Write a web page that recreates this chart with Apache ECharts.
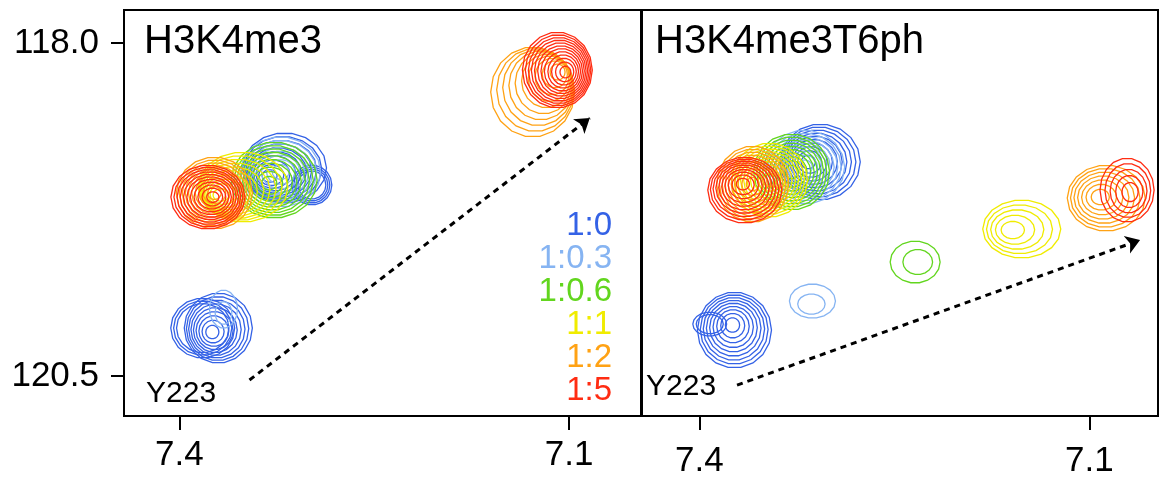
<!DOCTYPE html>
<html>
<head>
<meta charset="utf-8">
<script src="https://cdn.jsdelivr.net/npm/echarts@6/dist/echarts.min.js"></script>
<style>
html,body{margin:0;padding:0;background:#fff;}
#chart{width:1160px;height:481px;}
</style>
</head>
<body>
<div id="chart"></div>
<script>
// ---- data (ppm) ----
// each peak: [1H ppm, 15N ppm, half-width 1H, half-width 15N, contour count, inner-centre shift 1H, inner-centre shift 15N, (optional) innermost contour fraction]
const ratioNames = ['1:0', '1:0.3', '1:0.6', '1:1', '1:2', '1:5'];
const xTicks = [7.4, 7.1];
const yTicks = [118.0, 120.5];
const panelTitles = ['H3K4me3', 'H3K4me3T6ph'];
const residueLabel = 'Y223';

// Panel 1: H3K4me3
const k4_r0   = [[7.319, 118.938, 0.0323, 0.263, 10, 0.0115, 0.060],
                 [7.298, 119.066, 0.0154, 0.150, 4, 0, 0, 0.7],
                 [7.370, 120.140, 0.0262, 0.263, 9, 0.0046, 0.030],
                 [7.382, 120.140, 0.0246, 0.225, 3, 0, 0, 0.82]];
const k4_r03  = [[7.322, 118.968, 0.0308, 0.263, 8, 0, 0],
                 [7.366, 119.997, 0.0108, 0.143, 2, 0, 0.03]];
const k4_r06  = [[7.327, 119.029, 0.0331, 0.285, 10, 0.0038, 0.023]];
const k4_r1   = [[7.351, 119.081, 0.0346, 0.263, 10, 0.0169, 0.060]];
const k4_r2   = [[7.373, 119.126, 0.0293, 0.270, 10, 0, 0],
                 [7.128, 118.368, 0.0323, 0.338, 10, -0.0192, -0.150]];
const k4_r5   = [[7.378, 119.156, 0.0285, 0.240, 11, -0.0038, 0],
                 [7.109, 118.203, 0.0269, 0.285, 12, -0.0062, 0.015]];

// Panel 2: H3K4me3T6ph
const t6_r0   = [[7.307, 118.893, 0.0308, 0.285, 10, 0.0092, 0],
                 [7.373, 120.155, 0.0285, 0.285, 9, 0.0015, -0.038],
                 [7.392, 120.110, 0.0130, 0.090, 2, 0, 0, 0.8]];
const t6_r03  = [[7.319, 118.931, 0.0308, 0.278, 9, 0, 0],
                 [7.313, 119.937, 0.0177, 0.128, 2, 0.0008, 0.023]];
const t6_r06  = [[7.329, 118.968, 0.0292, 0.285, 10, 0, 0],
                 [7.234, 119.644, 0.0192, 0.158, 2, -0.002, 0]];
const t6_r1   = [[7.346, 119.029, 0.0292, 0.278, 10, 0, 0],
                 [7.152, 119.396, 0.0300, 0.218, 5, 0.0069, 0.008]];
const t6_r2   = [[7.359, 119.059, 0.0277, 0.285, 10, 0, 0],
                 [7.087, 119.164, 0.0300, 0.248, 7, 0.0046, -0.008]];
const t6_r5   = [[7.365, 119.104, 0.0285, 0.248, 10, 0.0015, -0.045],
                 [7.071, 119.104, 0.0208, 0.240, 5, -0.0023, 0.015]];

// titration arrows [start, end]
const arrowK4 = [[7.346, 120.53], [7.084, 118.563]];
const arrowT6 = [[7.371, 120.568], [7.061, 119.479]];

const panelPeaks = [
  [k4_r0, k4_r03, k4_r06, k4_r1, k4_r2, k4_r5],
  [t6_r0, t6_r03, t6_r06, t6_r1, t6_r2, t6_r5]
];
const xRanges = [[7.0446, 7.4426], [7.0472, 7.4441]];
const yRange = [117.752, 120.800];

// ---- styles ----
const colors = ['#3462e6', '#86b4f2', '#62d61e', '#f0ec00', '#ffa214', '#ff2c12'];
const FONT = '"Liberation Sans", Arial, Helvetica, sans-serif';

function makeRender(color) {
  return function (params, api) {
    const x = api.value(0), y = api.value(1), rx = api.value(2), ry = api.value(3);
    const n = api.value(4), dx = api.value(5), dy = api.value(6);
    const fminRaw = api.value(7);
    const hasFmin = typeof fminRaw === 'number' && !isNaN(fminRaw);
    const c0 = api.coord([x, y]);
    const c1 = api.coord([x + dx, y + dy]);
    const s = api.size([rx, ry]);
    const sx = Math.abs(s[0]), sy = Math.abs(s[1]);
    const children = [];
    const NV = 18;
    for (let i = 0; i < n; i++) {
      const t = n > 1 ? i / (n - 1) : 0;
      const f = hasFmin ? 1 - (1 - fminRaw) * t : Math.pow((n - i) / n, 0.75);
      const cx = c0[0] + (c1[0] - c0[0]) * t;
      const cy = c0[1] + (c1[1] - c0[1]) * t;
      const pts = [];
      for (let k = 0; k < NV; k++) {
        const a = 2 * Math.PI * k / NV;
        pts.push([cx + sx * f * Math.cos(a), cy + sy * f * Math.sin(a)]);
      }
      children.push({type: 'polygon', shape: {points: pts},
        style: {fill: 'none', stroke: color, lineWidth: 1.3}});
    }
    return {type: 'group', children: children};
  };
}

const grids = [
  {left: 124, top: 10, width: 517, height: 406},
  {left: 642, top: 10, width: 516, height: 406}
].map(g => Object.assign({show: true, borderColor: '#000', borderWidth: 2, backgroundColor: 'transparent'}, g));

const xAxes = xRanges.map((r, i) => ({
  type: 'value', gridIndex: i, inverse: true, min: r[0], max: r[1],
  axisLine: {show: false}, splitLine: {show: false},
  axisTick: {show: true, customValues: xTicks, length: 14, lineStyle: {color: '#000', width: 2}},
  axisLabel: {show: true, customValues: xTicks, formatter: v => v.toFixed(1),
    fontSize: 35, fontFamily: FONT, color: '#000', margin: i === 0 ? 22 : 28}
}));

const yAxes = [0, 1].map(i => ({
  type: 'value', gridIndex: i, inverse: true, min: yRange[0], max: yRange[1],
  axisLine: {show: false}, splitLine: {show: false},
  axisTick: {show: i === 0, customValues: yTicks, length: 13, lineStyle: {color: '#000', width: 2}},
  axisLabel: {show: i === 0, customValues: yTicks, formatter: v => v.toFixed(1),
    fontSize: 35, fontFamily: FONT, color: '#000', margin: 25}
}));

const series = [];
panelPeaks.forEach((peaks, p) => {
  peaks.forEach((arr, r) => {
    series.push({
      type: 'custom', name: ratioNames[r], xAxisIndex: p, yAxisIndex: p,
      coordinateSystem: 'cartesian2d', clip: true, silent: true,
      dimensions: ['h', 'n', 'wh', 'wn', 'count', 'sh', 'sn', 'fmin'],
      encode: {x: 0, y: 1},
      renderItem: makeRender(colors[r]), data: arr, animation: false
    });
  });
});
[arrowK4, arrowT6].forEach((a, p) => {
  series.push({
    type: 'lines', coordinateSystem: 'cartesian2d', xAxisIndex: p, yAxisIndex: p,
    symbol: ['none', 'arrow'], symbolSize: 14, silent: true, animation: false,
    lineStyle: {color: '#000', width: 3, type: [6, 5], opacity: 1},
    data: [{coords: a}]
  });
});

const graphics = [];
panelTitles.forEach((t, i) => {
  graphics.push({type: 'text', x: i === 0 ? 144 : 655, y: 42,
    style: {text: t, font: '40px ' + FONT, fill: '#000', align: 'left', verticalAlign: 'middle'}});
});
graphics.push({type: 'text', x: 146, y: 394,
  style: {text: residueLabel, font: '30px ' + FONT, fill: '#000', align: 'left', verticalAlign: 'middle'}});
graphics.push({type: 'text', x: 646, y: 387,
  style: {text: residueLabel, font: '30px ' + FONT, fill: '#000', align: 'left', verticalAlign: 'middle'}});
ratioNames.forEach((nm, i) => {
  graphics.push({type: 'text', x: 612, y: 226 + 33 * i,
    style: {text: nm, font: '33px ' + FONT, fill: colors[i], align: 'right', verticalAlign: 'middle'}});
});

const chart = echarts.init(document.getElementById('chart'), null, {renderer: 'canvas'});
chart.setOption({
  animation: false,
  backgroundColor: '#fff',
  grid: grids,
  xAxis: xAxes,
  yAxis: yAxes,
  series: series,
  graphic: graphics
});
</script>
</body>
</html>
